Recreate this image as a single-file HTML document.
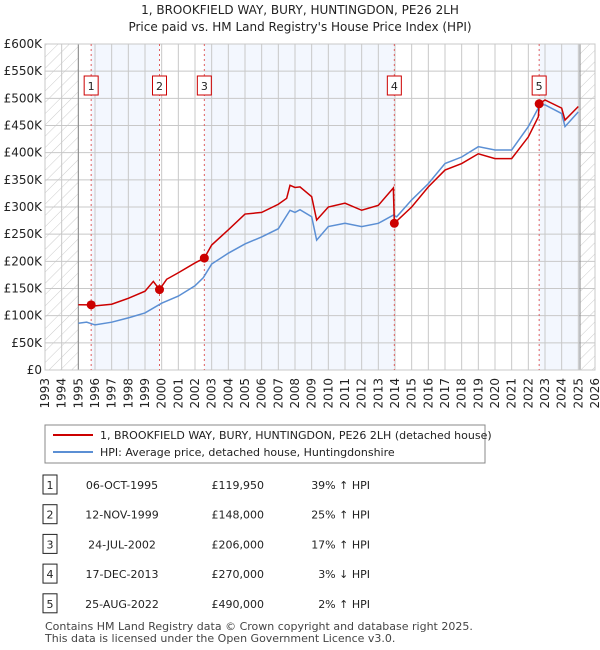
<!DOCTYPE html>
<html><head><meta charset="utf-8"><style>
body{margin:0;background:#fff;font-family:"DejaVu Sans","Liberation Sans",sans-serif;}
#wrap{position:relative;width:600px;height:650px;overflow:hidden;}
svg text{font-family:"DejaVu Sans","Liberation Sans",sans-serif;}
</style></head><body><div id="wrap">
<svg id="chart" width="600" height="650" style="position:absolute;left:0;top:0"></svg>
</div>
<script>
const years=[1995,1995.5,1996,1997,1998,1999,2000,2001,2002,2002.5,2003,2004,2005,2006,2007,2007.7,2008,2008.3,2009,2009.3,2010,2011,2012,2013,2013.9,2014.1,2015,2016,2017,2018,2019,2020,2021,2022,2022.7,2023,2024,2024.2,2025];
const hpi=[86,88,83,88,96,105,123,136,155,170,195,215,232,245,260,294,290,295,282,239,264,270,264,270,285,282,313,343,380,392,411,405,405,448,488,488,472,448,475];
const redYears=[1995,1995.77,1996,1997,1998,1999,1999.5,1999.87,2000.3,2001,2002,2002.56,2003,2004,2005,2006,2007,2007.5,2007.7,2008,2008.3,2009,2009.3,2010,2011,2012,2013,2013.9,2013.96,2015,2016,2017,2018,2019,2020,2021,2022,2022.6,2022.65,2023,2024,2024.2,2025];
const red=[120,119.95,118,121,132,145,163,148,167,179,197,206,230,258,287,290,305,316,340,336,337,319,276,300,307,294,303,335,270,300,337,368,380,398,389,389,429,466,490,497,482,460,485];
const saleYears=[1995.77,1999.87,2002.56,2013.96,2022.65];
const salePrices=[119.95,148,206,270,490];
const saleLabels=["1","2","3","4","5"];
const yTicks=[0,50,100,150,200,250,300,350,400,450,500,550,600];
const xTicks=[1993,1994,1995,1996,1997,1998,1999,2000,2001,2002,2003,2004,2005,2006,2007,2008,2009,2010,2011,2012,2013,2014,2015,2016,2017,2018,2019,2020,2021,2022,2023,2024,2025,2026];
const tableDates=["06-OCT-1995","12-NOV-1999","24-JUL-2002","17-DEC-2013","25-AUG-2022"];
const tablePrices=["£119,950","£148,000","£206,000","£270,000","£490,000"];
const tableHpi=["39% ↑ HPI","25% ↑ HPI","17% ↑ HPI","3% ↓ HPI","2% ↑ HPI"];
const L=45,R=595,T=44,B=370;
const x=y=>L+(y-1993)*(R-L)/33;
const yv=v=>B-v*(B-T)/600;
const svg=document.getElementById('chart');const NS='http://www.w3.org/2000/svg';
function mk(tag,attrs,txt){const e=document.createElementNS(NS,tag);for(const k in attrs)e.setAttribute(k,attrs[k]);if(txt!==undefined)e.textContent=txt;svg.appendChild(e);return e;}
const defs=mk('defs',{});defs.innerHTML='<pattern id="h" width="8" height="8" patternUnits="userSpaceOnUse" patternTransform="rotate(45)"><line x1="0" y1="0" x2="0" y2="8" stroke="#ccc" stroke-width="1"/></pattern>';
const shades=[[1995.77,1999.87],[2002.56,2013.96],[2022.65,2025.1]];
shades.forEach(s=>{const e=mk('rect',{x:x(s[0]),y:T,width:x(s[1])-x(s[0]),height:B-T,fill:'#f3f7fe'});

});
[[1993,1995],[2025.1,2026]].forEach(s=>{const e=mk('rect',{x:x(s[0]),y:T,width:x(s[1])-x(s[0]),height:B-T,fill:'url(#h)'});

});
xTicks.forEach(t=>{mk('line',{x1:x(t),x2:x(t),y1:T,y2:B,stroke:'#c8c8c8'});
const e=mk('text',{x:0,y:0,'font-size':12,fill:'#222','text-anchor':'end',transform:`translate(${x(t)+4},${B+8}) rotate(-90)`},String(t));

});
yTicks.forEach(t=>{mk('line',{x1:L,x2:R,y1:yv(t),y2:yv(t),stroke:'#c8c8c8'});
const e=mk('text',{x:L-3,y:yv(t)+4,'font-size':12,fill:'#222','text-anchor':'end'},t===0?'£0':'£'+t+'K');

});
mk('line',{x1:x(1995),x2:x(1995),y1:T,y2:B,stroke:'#888'});
mk('line',{x1:x(2025.1),x2:x(2025.1),y1:T,y2:B,stroke:'#888'});
mk('rect',{x:L,y:T,width:R-L,height:B-T,fill:'none',stroke:'#c8c8c8'});
saleYears.forEach((s,i)=>{mk('line',{x1:x(s),x2:x(s),y1:T,y2:B,stroke:'#e06060','stroke-dasharray':'2,3'});
const b=mk('rect',{x:x(s)-7,y:76,width:14,height:19,fill:'#fff',stroke:'#c00'});


mk('text',{x:x(s),y:90,'font-size':11,'text-anchor':'middle',fill:'#222'},saleLabels[i]);});
const hp=mk('polyline',{points:years.map((y,i)=>x(y)+','+yv(hpi[i])).join(' '),fill:'none',stroke:'#5b8fd4','stroke-width':1.5});


const rp=mk('polyline',{points:redYears.map((y,i)=>x(y)+','+yv(red[i])).join(' '),fill:'none',stroke:'#cc0000','stroke-width':1.5});


saleYears.forEach((s,i)=>{const c=mk('circle',{cx:x(s),cy:yv(salePrices[i]),r:4.5,fill:'#cc0000'});

});
mk('text',{x:300,y:14,'font-size':12,'text-anchor':'middle',fill:'#222'},'1, BROOKFIELD WAY, BURY, HUNTINGDON, PE26 2LH');
mk('text',{x:300,y:31,'font-size':12,'text-anchor':'middle',fill:'#222'},"Price paid vs. HM Land Registry's House Price Index (HPI)");
const lg=mk('rect',{x:45,y:425,width:440,height:38,fill:'#fff',stroke:'#888'});


mk('line',{x1:53,x2:93,y1:435,y2:435,stroke:'#cc0000','stroke-width':2});
mk('text',{x:100,y:439,'font-size':11,fill:'#222'},'1, BROOKFIELD WAY, BURY, HUNTINGDON, PE26 2LH (detached house)');
mk('line',{x1:53,x2:93,y1:452,y2:452,stroke:'#5b8fd4','stroke-width':2});
mk('text',{x:100,y:456,'font-size':11,fill:'#222'},'HPI: Average price, detached house, Huntingdonshire');
saleLabels.forEach((l,i)=>{const cy=485+i*29.7;
const b=mk('rect',{x:43,y:cy-10,width:14,height:19,fill:'#fff',stroke:'#222'});


mk('text',{x:50,y:cy+4,'font-size':11,'text-anchor':'middle',fill:'#222'},l);
mk('text',{x:122,y:cy+4,'font-size':11,'text-anchor':'middle',fill:'#222'},tableDates[i]);
mk('text',{x:264,y:cy+4,'font-size':11,'text-anchor':'end',fill:'#222'},tablePrices[i]);
mk('text',{x:370,y:cy+4,'font-size':11,'text-anchor':'end',fill:'#222'},tableHpi[i]);});
mk('text',{x:45,y:630,'font-size':11,fill:'#444'},'Contains HM Land Registry data © Crown copyright and database right 2025.');
mk('text',{x:45,y:642,'font-size':11,fill:'#444'},'This data is licensed under the Open Government Licence v3.0.');
</script></body></html>
